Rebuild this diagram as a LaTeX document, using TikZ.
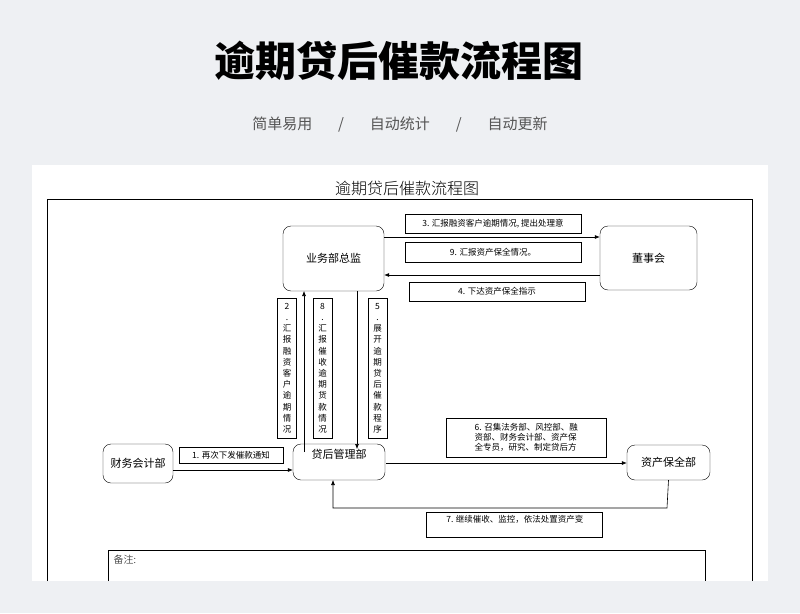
\documentclass[tikz,border=0pt]{standalone}
\usepackage{fontspec}
\setmainfont{Noto Sans CJK SC}
\newfontfamily\serifcjk{Noto Sans CJK SC Light}
\usetikzlibrary{arrows.meta}
\definecolor{pagebg}{HTML}{EEF0F3}
\definecolor{subgray}{HTML}{555555}
\tikzstyle{unit} = [draw=black, rounded corners=8pt, font=\fontsize{11}{12}\selectfont, inner sep=0pt]
\tikzstyle{note} = [draw=black, thin, font=\fontsize{8.5}{10}\selectfont, inner sep=1pt, align=center]
\tikzstyle{vnote} = [draw=black, thin, font=\fontsize{8.5}{11.2}\selectfont, inner sep=0pt, align=center, anchor=north, minimum width=19pt, minimum height=140pt]
\tikzstyle{flow} = [semithick, -{Latex[length=5pt,width=4pt]}]
\begin{document}
\begin{tikzpicture}[x=1pt, y=-1pt]
    \fill [pagebg] (0,0) rectangle (800,613);
    \useasboundingbox (0,0) rectangle (800,613);
    \node (title) at (399,61) {\fontsize{41}{44}\selectfont\bfseries 逾期贷后催款流程图};
    \node (sub) [text=subgray] at (400,125) {\fontsize{15}{18}\selectfont 简单易用 \quad\; / \quad\; 自动统计 \quad\; / \quad\; 自动更新};
    \fill [white] (32,165) rectangle (768,581);

    % sheet frame
    \node (head) at (407,188) {\fontsize{16}{18}\selectfont\serifcjk 逾期贷后催款流程图};
    \draw [thick] (47,581) -- (47,199) -- (752,199) -- (752,581);

    % departments
    \node (boss) [unit, minimum width=101pt, minimum height=65pt] at (333.5,258.5) {业务部总监};
    \node (board) [unit, minimum width=97pt, minimum height=64pt] at (648.5,258) {董事会};
    \node (loan) [unit, minimum width=92pt, minimum height=36pt] at (339,462) {};
    \node at (339,454) {\fontsize{11}{12}\selectfont 贷后管理部};
    \node (fin) [unit, minimum width=70pt, minimum height=39pt] at (138,463.5) {财务会计部};
    \node (asset) [unit, minimum width=83pt, minimum height=35pt] at (668.5,462.5) {资产保全部};

    % labels
    \node (n3) [note, minimum width=176pt, minimum height=19pt] at (493,223.5) {3. 汇报融资客户逾期情况, 提出处理意};
    \node (n9) [note, minimum width=176pt, minimum height=20pt] at (493,252) {9. 汇报资产保全情况。};
    \node (n4) [note, minimum width=176pt, minimum height=19pt] at (497,291.5) {4. 下达资产保全指示};
    \node (n2) [vnote] at (287,298) {2\\.\\汇\\报\\融\\资\\客\\户\\逾\\期\\情\\况};
    \node (n8) [vnote] at (322.5,298) {8\\.\\汇\\报\\催\\收\\逾\\期\\货\\款\\情\\况};
    \node (n5) [vnote] at (377.5,298) {5\\.\\展\\开\\逾\\期\\贷\\后\\催\\款\\程\\序};
    \node (n1) [note, minimum width=104pt, minimum height=16pt] at (231,455) {1. 再次下发催款通知};
    \node (n6) [note, minimum width=160pt, minimum height=39pt, anchor=north west, align=left] at (446,418) {6. 召集法务部、风控部、融\\资部、财务会计部、资产保\\全专员，研究、制定贷后方};
    \node (n7) [note, minimum width=176pt, minimum height=25pt, anchor=north west, align=left, text depth=12pt] at (426,512) {\,7. 继续催收、监控，依法处置资产变};

    % flows
    \draw [flow] (boss.east |- 0,237) -- (board.west |- 0,237);
    \draw [flow] (board.west |- 0,275) -- (boss.east |- 0,275);
    \draw [flow] (304,452) -- (304,291);
    \draw [flow] (357,291) -- (357,449);
    \draw [flow] (fin.east |- 0,470) -- (loan.west |- 0,470);
    \draw [flow] (386,463) -- (asset.west |- 0,463);
    \draw [flow] (asset.south) -- (667,508) -- (333,508) -- (333,480);

    % remarks
    \draw [semithick] (108,581) -- (108,550) -- (705,550) -- (705,581);
    \node (rem) [anchor=west] at (110,560) {\fontsize{10}{12}\selectfont\serifcjk 备注:};
\end{tikzpicture}
\end{document}
